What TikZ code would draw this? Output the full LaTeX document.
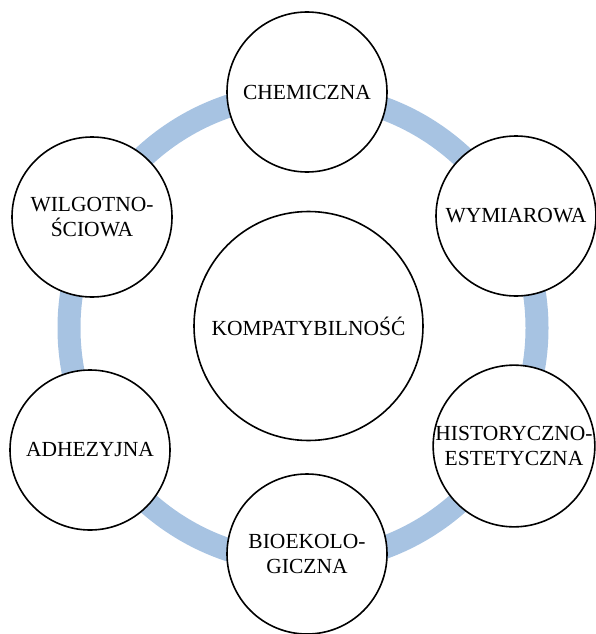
\documentclass[tikz,border=0pt]{standalone}
\usepackage{fontspec}
\setmainfont{Liberation Serif}
\definecolor{ringblue}{RGB}{167,195,226}
\begin{document}
\begin{tikzpicture}[x=1pt,y=-1pt,
  outer/.style={circle,draw=black,line width=1.6pt,fill=white,minimum size=160pt,inner sep=0pt,align=center,font=\fontsize{21.5}{25}\selectfont},
  inner/.style={circle,draw=black,line width=1.6pt,fill=white,minimum size=229pt,inner sep=0pt,align=center,font=\fontsize{21.5}{25}\selectfont}]
\useasboundingbox (0,0) rectangle (596,634);
\coordinate (ringc) at (303,328);
\draw[ringblue,line width=23pt] (ringc) circle[radius=234];
\node[inner] (komp) at (308.5,326) {KOMPATYBILNOŚĆ};
\node[outer] (chem) at (307,92) {CHEMICZNA};
\node[outer] (wym) at (516,216) {WYMIAROWA};
\node[outer] (hist) at (514,446) {HISTORYCZNO-\\ESTETYCZNA};
\node[outer] (bio) at (307,554) {BIOEKOLO-\\GICZNA};
\node[outer] (adh) at (90,450) {ADHEZYJNA};
\node[outer] (wilg) at (92,217) {WILGOTNO-\\ŚCIOWA};
\end{tikzpicture}
\end{document}
